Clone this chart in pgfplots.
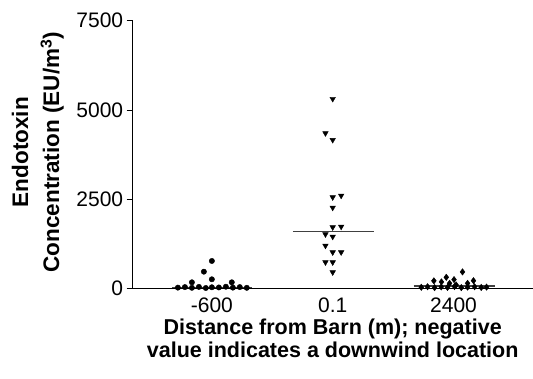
\documentclass[border=0pt]{standalone}
\usepackage{pgfplots}
\pgfplotsset{compat=1.18}
\usepackage{fontspec}
\setmainfont{Liberation Sans}
\begin{document}
\begin{tikzpicture}
\useasboundingbox (-132.7pt,-90.3pt) rectangle (400.3pt,288.7pt);
\begin{axis}[
  scale only axis, width=400pt, height=268pt,
  at={(0,0)}, anchor=south west,
  xmin=-0.655, xmax=2.655, ymin=0, ymax=7500,
  axis x line=bottom, axis y line=left,
  axis line style={-, line width=0.9pt, black},
  xtick={0,1,2}, xticklabels={-600,0.1,2400},
  ytick={0,2500,5000,7500},
  scaled y ticks=false,
  /pgf/number format/1000 sep={},
  /pgf/number format/assume math mode=true,
  tick label style={font=\fontsize{21}{24}\selectfont},
  tick align=outside,
  major tick length=6pt,
  tick style={line width=0.9pt, black},
  x tick style={draw=none},
  xticklabel style={yshift=-2pt, inner sep=1pt},
  xlabel={Distance from Barn (m); negative\\value indicates a downwind location},
  xlabel style={at={(axis description cs:0.5,0)}, anchor=north, yshift=-30pt, inner sep=0pt, align=center, font=\fontsize{21.5}{23.5}\selectfont\bfseries},
  ylabel={Endotoxin\\Concentration (EU/m\textsuperscript{3})},
  ylabel style={at={(axis description cs:-0.237,0.51)}, anchor=center, inner sep=0pt, align=center, font=\fontsize{22.5}{31}\selectfont\bfseries},
  clip=false,
]
% medians
\addplot[black!75, line width=1.2pt] coordinates {(-0.33,40) (0.33,40)};
\addplot[black!75, line width=1.2pt] coordinates {(0.67,1600) (1.34,1600)};
\addplot[black!75, line width=1.2pt] coordinates {(1.67,75) (2.34,75)};
% group -600
\addplot[only marks, mark=*, mark size=2.7pt, black] coordinates {
(0,776) (-0.066,476) (0,263) (-0.165,179) (0.165,179)
(-0.281,30) (-0.223,45) (-0.165,25) (-0.107,50) (-0.050,20) (0,40)
(0.058,35) (0.116,55) (0.174,30) (0.231,45) (0.289,25)
};
% group 0.1
\addplot[only marks, mark=triangle*, mark size=3.2pt, mark options={rotate=180}, black] coordinates {
(1.0,5312) (0.94,4351) (1.0,4164) (1.0,2559) (1.07,2604) (1.0,2268)
(1.0,1719) (1.07,1736) (0.94,1523) (1.0,1456) (0.94,1204) (1.0,1019)
(1.07,1019) (0.94,739) (1.0,739) (1.0,459)
};
% group 2400
\addplot[only marks, mark=diamond*, mark size=3.2pt, black] coordinates {
(2.074,470) (1.94,319) (2.004,255) (1.837,220) (1.9,190) (1.967,150)
(2.116,151) (2.165,224) (2.022,104)
(1.733,40) (1.785,55) (1.843,30) (1.898,50) (1.950,35) (2.008,60)
(2.064,30) (2.116,45) (2.174,55) (2.229,35) (2.273,45)
};
\end{axis}
\end{tikzpicture}
\end{document}
